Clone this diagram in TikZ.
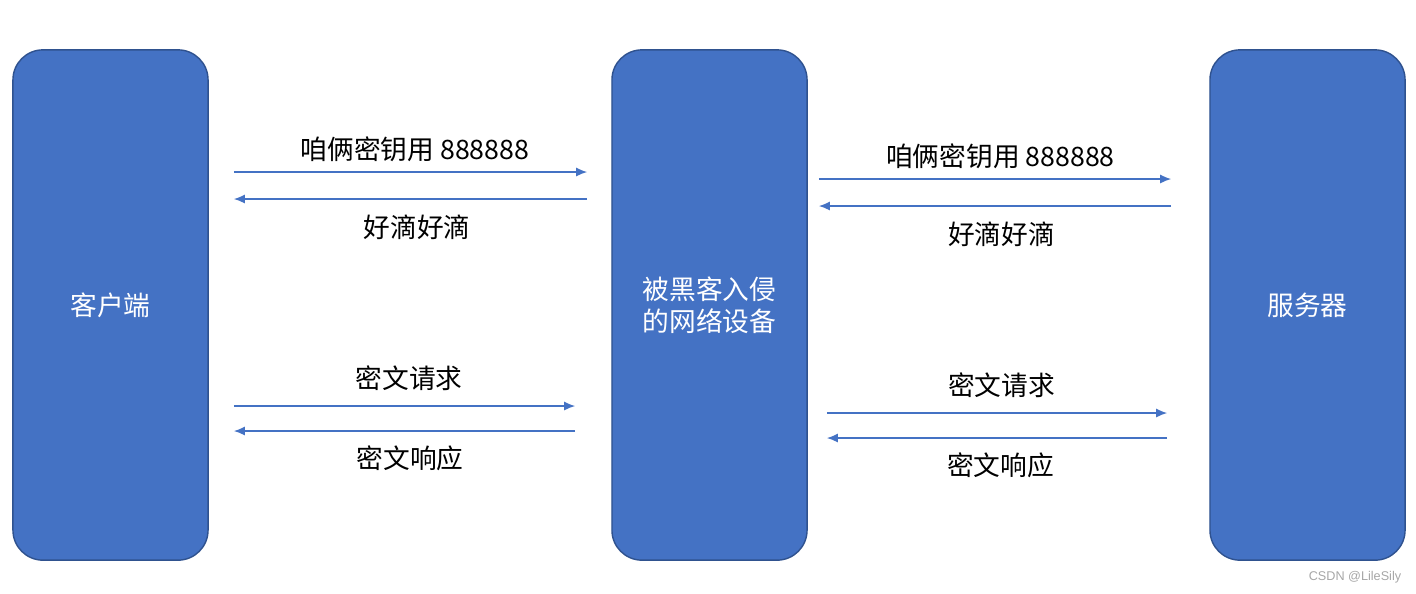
\documentclass[tikz,border=0pt]{standalone}
\usepackage{fontspec}
\setmainfont{Noto Sans CJK SC}
\newfontfamily\markfont{Liberation Sans}
\usepackage{xcolor}
\usepackage{tikz}
\usetikzlibrary{positioning, arrows.meta, calc}

\definecolor{boxblue}{HTML}{4472C4}
\definecolor{boxedge}{HTML}{2F528F}

\tikzset{
  party/.style={draw=boxedge, line width=0.4pt, fill=boxblue, rounded corners=0.3cm,
    minimum width=1.95cm, minimum height=5.1cm, text=white, align=center,
    font=\fontsize{7.6pt}{9.1pt}\selectfont, inner sep=0pt},
  msg/.style={draw=boxblue, line width=0.45pt, -{Latex[length=1.1mm, width=0.9mm]}},
  msgtext/.style={font=\fontsize{7.6pt}{9pt}\selectfont, inner sep=0pt}
}

\begin{document}
\begin{tikzpicture}[x=0.01cm, y=-0.01cm]
        % Frame
        \useasboundingbox (0,0) rectangle (1416,593);

        % Parties
        \node[party] (client) at (110.5,305) {客户端};
        \node[party] (mitm) at (709.5,305) {被黑客入侵\\的网络设备};
        \node[party] (server) at (1307.5,305) {服务器};

        % Client <-> device
        \draw[msg, shorten <=0.25cm, shorten >=0.24cm] (client.east |- 0,172) -- (mitm.west |- 0,172)
            node[msgtext, midway, above=0.09cm, xshift=0.05cm] (keyA) {咱俩密钥用 888888};
        \draw[msg, shorten <=0.24cm, shorten >=0.25cm] (mitm.west |- 0,199) -- (client.east |- 0,199)
            node[msgtext, midway, below=0.15cm, xshift=0.07cm] (okA) {好滴好滴};
        \draw[msg, shorten <=0.25cm, shorten >=0.36cm] (client.east |- 0,406) -- (mitm.west |- 0,406)
            node[msgtext, midway, above=0.15cm, xshift=-0.01cm] (reqA) {密文请求};
        \draw[msg, shorten <=0.36cm, shorten >=0.25cm] (mitm.west |- 0,431) -- (client.east |- 0,431)
            node[msgtext, midway, below=0.14cm] (resA) {密文响应};

        % Device <-> server
        \draw[msg, shorten <=0.11cm, shorten >=0.38cm] (mitm.east |- 0,179) -- (server.west |- 0,179)
            node[msgtext, midway, above=0.09cm, xshift=-0.08cm] (keyB) {咱俩密钥用 888888};
        \draw[msg, shorten <=0.38cm, shorten >=0.11cm] (server.west |- 0,206) -- (mitm.east |- 0,206)
            node[msgtext, midway, below=0.15cm, xshift=-0.07cm] (okB) {好滴好滴};
        \draw[msg, shorten <=0.19cm, shorten >=0.42cm] (mitm.east |- 0,413) -- (server.west |- 0,413)
            node[msgtext, midway, above=0.15cm, xshift=-0.07cm] (reqB) {密文请求};
        \draw[msg, shorten <=0.42cm, shorten >=0.19cm] (server.west |- 0,438) -- (mitm.east |- 0,438)
            node[msgtext, midway, below=0.14cm, xshift=-0.08cm] (resB) {密文响应};

        % Watermark
        \node[font=\markfont\fontsize{3.6pt}{4pt}\selectfont, text=gray!70, inner sep=0pt] (mark) at (1355,577) {CSDN @LileSily};

    \end{tikzpicture}
\end{document}
